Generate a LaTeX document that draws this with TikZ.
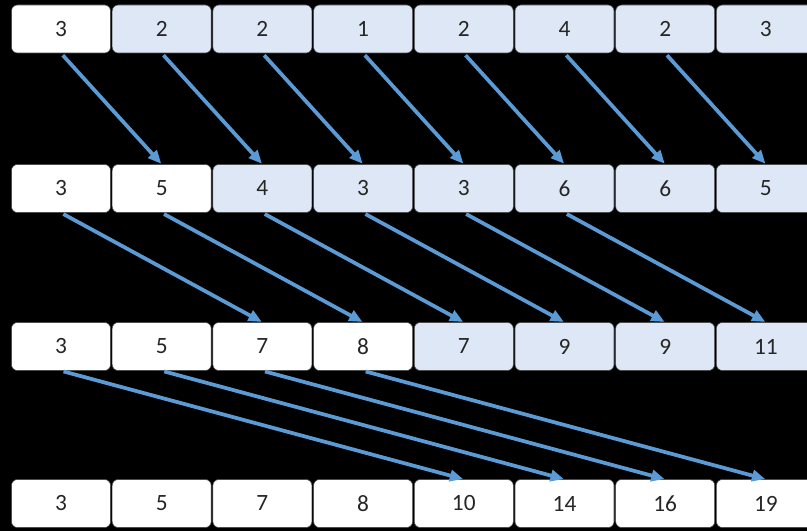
\documentclass[tikz,border=0pt]{standalone}
\usepackage{fontspec}
\setmainfont{Carlito}
\usetikzlibrary{arrows.meta}
\definecolor{cellblue}{HTML}{DEE7F5}
\definecolor{arrowblue}{HTML}{5B9BD5}
\tikzset{
  cell/.style={draw=black!70, line width=0.4pt, rounded corners=4.5pt, fill=white,
    minimum width=74.25pt, minimum height=36pt, inner sep=0pt,
    font=\fontsize{17.5}{20}\selectfont, text=black!85},
  hl/.style={fill=cellblue},
  link/.style={draw=arrowblue, line width=2.8pt,
    -{Triangle[length=10pt,width=8.5pt]}, shorten <=2pt, shorten >=0.5pt}
}
\begin{document}
\begin{tikzpicture}[x=0.75pt,y=-0.75pt]
\useasboundingbox (0,0) rectangle (807,531);
\fill[black] (0,0) rectangle (807,531);
\begin{scope}
\clip (0,0) rectangle (807,531);
% row 1
\foreach \v [count=\i] in {3,2,2,1,2,4,2,3} {
  \ifnum\i=1
    \node[cell] (r1c\i) at ({61+100.7*(\i-1)},29) {\v};
  \else
    \node[cell,hl] (r1c\i) at ({61+100.7*(\i-1)},29) {\v};
  \fi
}
% row 2
\foreach \v [count=\i] in {3,5,4,3,3,6,6,5} {
  \ifnum\i<3
    \node[cell] (r2c\i) at ({61+100.7*(\i-1)},188.5) {\v};
  \else
    \node[cell,hl] (r2c\i) at ({61+100.7*(\i-1)},188.5) {\v};
  \fi
}
% row 3
\foreach \v [count=\i] in {3,5,7,8,7,9,9,11} {
  \ifnum\i<5
    \node[cell] (r3c\i) at ({61+100.7*(\i-1)},346.5) {\v};
  \else
    \node[cell,hl] (r3c\i) at ({61+100.7*(\i-1)},346.5) {\v};
  \fi
}
% row 4
\foreach \v [count=\i] in {3,5,7,8,10,14,16,19} {
  \node[cell] (r4c\i) at ({61+100.7*(\i-1)},503.5) {\v};
}
\end{scope}
% arrows
\foreach \i [evaluate=\i as \j using int(\i+1)] in {1,...,7} {
  \draw[link] (r1c\i.south) -- (r2c\j.north);
}
\foreach \i [evaluate=\i as \j using int(\i+2)] in {1,...,6} {
  \draw[link] (r2c\i.south) -- (r3c\j.north);
}
\foreach \i [evaluate=\i as \j using int(\i+4)] in {1,...,4} {
  \draw[link] (r3c\i.south) -- (r4c\j.north);
}
\end{tikzpicture}
\end{document}
